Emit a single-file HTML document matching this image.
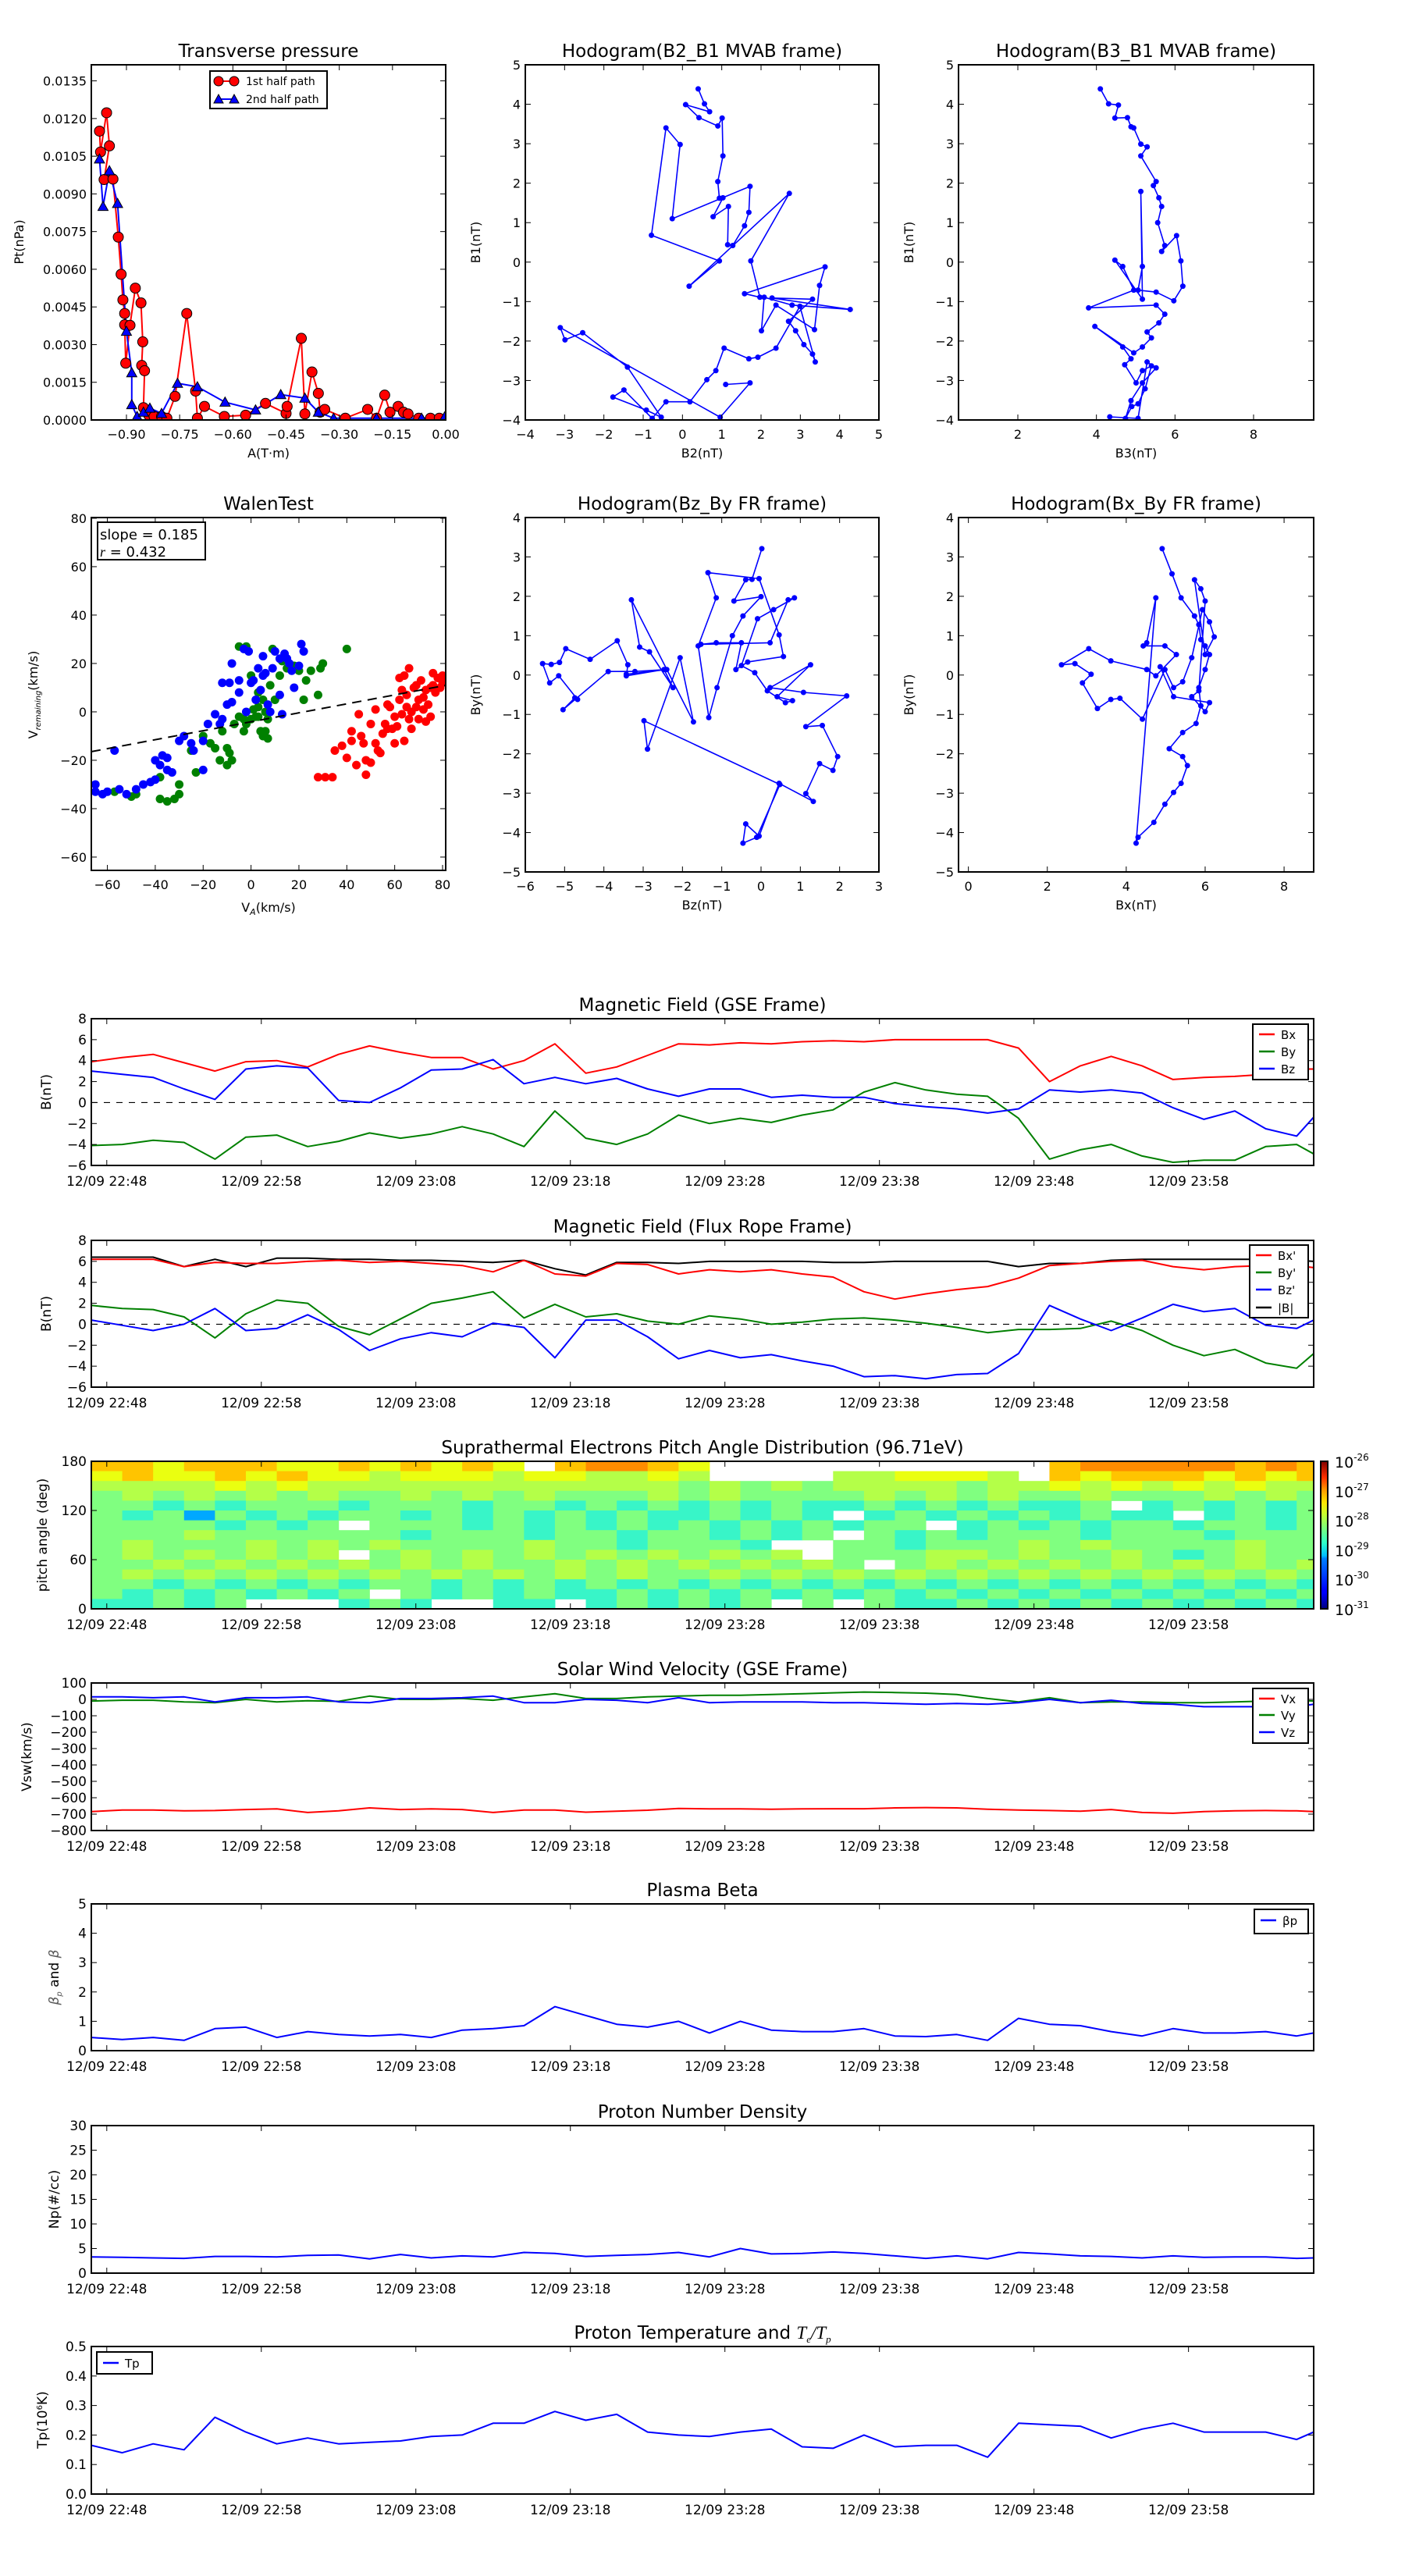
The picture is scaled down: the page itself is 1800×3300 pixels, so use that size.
<!DOCTYPE html>
<html><head><meta charset="utf-8"><style>
html,body{margin:0;padding:0;background:#fff;}
svg{display:block;font-family:"DejaVu Sans","Liberation Sans",sans-serif;}
</style></head><body>
<svg id="fig" width="1800" height="3300" viewBox="0 0 1800 3300" xmlns="http://www.w3.org/2000/svg">
<defs>
<linearGradient id="jet" x1="0" y1="1" x2="0" y2="0">
<stop offset="0" stop-color="#00007f"/><stop offset="0.11" stop-color="#0000ff"/><stop offset="0.125" stop-color="#0000ff"/>
<stop offset="0.34" stop-color="#0080ff"/><stop offset="0.36" stop-color="#00bfff"/><stop offset="0.45" stop-color="#30ffc7"/>
<stop offset="0.55" stop-color="#7dff7a"/><stop offset="0.64" stop-color="#c7ff30"/><stop offset="0.72" stop-color="#ffe600"/>
<stop offset="0.8" stop-color="#ffa000"/><stop offset="0.89" stop-color="#ff3000"/><stop offset="1" stop-color="#800000"/>
</linearGradient>
</defs>
</svg>
<script>
// ---------- DATA ----------
const ptA1=[-0.976,-0.973,-0.956,-0.948,-0.963,-0.938,-0.923,-0.915,-0.910,-0.905,-0.905,-0.902,-0.890,-0.875,-0.859,-0.854,-0.857,-0.849,-0.852,-0.837,-0.822,-0.801,-0.786,-0.763,-0.730,-0.705,-0.700,-0.680,-0.624,-0.564,-0.508,-0.450,-0.447,-0.407,-0.397,-0.377,-0.359,-0.354,-0.341,-0.283,-0.220,-0.195,-0.172,-0.157,-0.134,-0.119,-0.106,-0.076,-0.043,-0.018];
const ptP1=[0.0115,0.01067,0.01223,0.01091,0.00957,0.00959,0.00728,0.0058,0.00478,0.00424,0.00379,0.00226,0.00377,0.00525,0.00466,0.00311,0.00217,0.00196,0.00049,0.00019,0.00014,0.00014,0.00007,0.00094,0.00424,0.00115,0.00007,0.00054,0.00014,0.00019,0.00066,0.00026,0.00054,0.00325,0.00024,0.00191,0.00106,0.00031,0.00042,0.00007,0.00042,0.00007,0.00099,0.00031,0.00054,0.00031,0.00024,0.00007,0.00007,0.00007];
const ptA2=[-0.976,-0.966,-0.948,-0.925,-0.900,-0.885,-0.885,-0.870,-0.852,-0.834,-0.801,-0.756,-0.700,-0.622,-0.536,-0.465,-0.397,-0.359,-0.316,-0.195,-0.068,-0.003];
const ptP2=[0.01039,0.0085,0.00992,0.00862,0.00353,0.00188,0.00061,0.00014,0.00031,0.00047,0.00026,0.00146,0.00132,0.00071,0.0004,0.00101,0.00087,0.00031,0.00007,0.00007,0.00007,0.00012];
const ptXTicks=[-0.90,-0.75,-0.60,-0.45,-0.30,-0.15,0.00];
const ptYTicks=[0,0.0015,0.003,0.0045,0.006,0.0075,0.009,0.0105,0.012,0.0135];

const h1B2=[0.40,0.56,0.69,0.08,0.42,0.90,1.01,1.03,0.90,0.94,1.03,0.78,1.17,1.15,1.28,1.58,1.69,1.72,-0.26,-0.06,-0.42,-0.79,0.94,0.17,2.72,1.74,1.97,1.58,3.63,3.49,3.36,2.38,2.01,2.08,2.79,4.27,2.28,3.31,2.70,2.88,3.09,3.31,3.38,2.99,2.38,1.92,1.69,1.06,0.85,0.62,0.19,-0.42,-0.77,-1.49,-1.77,-0.92,-0.54,-1.40,-2.54,-2.99,-3.11,0.96,1.72,1.10];
const h1B1=[4.39,4.01,3.81,3.99,3.66,3.45,3.65,2.69,2.04,1.62,1.63,1.15,1.41,0.44,0.42,0.92,1.26,1.92,1.10,2.98,3.40,0.68,0.03,-0.61,1.74,0.03,-0.89,-0.80,-0.12,-0.59,-1.71,-1.09,-1.74,-0.89,-1.09,-1.20,-0.91,-0.94,-1.50,-1.74,-2.09,-2.33,-2.53,-1.12,-2.18,-2.41,-2.45,-2.18,-2.75,-2.98,-3.54,-3.54,-3.96,-3.24,-3.42,-3.75,-3.93,-2.66,-1.79,-1.97,-1.66,-3.93,-3.06,-3.10];

const h2B3=[4.10,4.31,4.56,4.47,4.79,4.88,4.95,5.13,5.29,5.13,5.52,5.45,5.59,5.66,5.56,5.74,5.66,6.04,6.15,6.20,5.97,5.52,5.06,5.17,5.13,5.17,4.47,4.67,4.95,3.80,5.52,5.74,5.59,5.29,5.40,5.17,4.95,3.96,4.67,4.88,4.72,5.01,5.17,5.40,5.24,5.06,4.90,4.74,4.88,5.17,5.52,5.29,5.06,4.34];
const h2B1=[4.39,4.01,3.98,3.65,3.66,3.43,3.40,2.99,2.92,2.69,2.04,1.94,1.63,1.41,1.00,0.42,0.27,0.67,0.03,-0.61,-0.98,-0.76,-0.71,-0.11,1.79,-0.94,0.05,-0.11,-0.71,-1.16,-1.09,-1.32,-1.54,-1.77,-1.92,-2.15,-2.30,-1.63,-2.15,-2.45,-2.60,-3.06,-2.75,-2.63,-3.21,-3.59,-3.66,-3.96,-3.51,-3.06,-2.68,-2.53,-3.96,-3.92];

const h3Bz=[0.02,-0.23,-0.39,-0.69,0.00,-0.46,-0.73,-1.12,-1.33,-1.60,-1.14,-1.35,-0.05,0.46,0.57,-0.34,-0.64,-0.50,-1.14,-1.53,0.23,0.69,0.85,0.32,-0.09,-0.50,-0.16,0.16,0.62,0.80,0.41,1.26,0.23,1.08,2.18,1.14,1.56,1.95,1.83,1.49,1.14,1.33,0.46,-0.05,-0.39,-0.46,-0.11,0.48,-2.98,-2.89,-2.06,-1.72,-3.30,-3.09,-2.84,-2.24,-2.47,-3.43,-3.39,-3.66,-4.35,-4.97,-5.13,-5.34,-5.56,-5.38,-5.15,-4.67,-4.74,-5.04,-3.89,-3.21,-2.40,-3.43];
const h3By=[3.21,2.43,2.42,1.88,1.99,1.50,1.00,-0.32,-1.08,0.74,1.96,2.60,2.45,1.02,0.47,0.33,0.14,0.82,0.82,0.78,0.82,1.91,1.96,1.66,1.43,0.24,0.06,-0.40,-0.70,-0.65,-0.55,0.26,-0.32,-0.44,-0.53,-1.31,-1.28,-2.07,-2.42,-2.25,-3.01,-3.21,-2.75,-4.09,-3.78,-4.27,-4.12,-2.78,-1.16,-1.88,0.44,-1.19,1.91,0.71,0.59,-0.32,0.14,-0.02,0.26,0.87,0.40,0.67,0.32,0.27,0.29,-0.20,-0.02,-0.62,-0.58,-0.88,0.09,0.09,0.14,0.02];

const h4Bx=[4.91,5.16,5.39,5.73,5.84,5.89,6.00,6.11,6.00,5.84,5.89,5.77,5.43,5.09,5.43,5.55,5.39,5.20,4.98,4.70,4.30,4.25,4.75,4.52,4.43,4.98,5.27,4.75,4.52,3.61,3.05,2.36,2.70,3.11,2.89,3.27,3.61,3.84,4.41,4.98,5.20,5.43,5.66,5.93,6.11,6.23,6.00,5.73,5.89,6.00,5.84,5.66,6.00,6.11,5.20,4.86];
const h4By=[3.21,2.57,1.96,1.50,1.28,0.90,0.74,0.52,0.14,-0.32,-0.78,-1.23,-1.46,-1.87,-2.07,-2.30,-2.75,-2.98,-3.28,-3.74,-4.12,-4.27,1.96,0.82,0.74,0.74,0.52,-0.02,0.14,0.36,0.67,0.26,0.29,0.02,-0.20,-0.85,-0.62,-0.59,-1.12,0.14,-0.32,-0.17,0.44,1.66,1.35,0.97,0.52,2.42,2.19,1.88,-0.40,-0.55,-0.93,-0.70,-0.55,0.21];

const wBlueVA=[-65,-62,-60,-55,-52,-57,-45,-40,-38,-37,-40,-35,-33,-35,-30,-28,-25,-24,-20,-18,-15,-12,-10,-12,-13,-8,-5,-3,-1,0,2,3,5,5,7,8,9,10,12,12,14,15,16,18,17,20,21,22,-8,-5,-2,1,4,-20,-42,-48,-65,-9,6,13];
const wBlueVR=[-33,-34,-33,-32,-34,-16,-30,-28,-22,-18,-20,-24,-25,-19,-12,-10,-13,-16,-24,-5,-1,-3,3,12,-5,20,13,26,25,12,5,18,15,23,3,0,18,25,7,22,24,22,20,10,17,19,28,25,4,8,0,13,9,-12,-29,-32,-30,12,16,-1];
const wGreenVA=[-5,-2,0,3,3,5,6,7,8,9,10,12,13,15,18,20,22,23,25,28,29,30,40,-25,-23,-20,-17,-15,-13,-10,-9,-7,-5,-3,-2,0,2,4,5,6,7,-30,-32,-35,-38,-48,-50,-57,-38,-30,-8,-12,-3,1,3,-10];
const wGreenVR=[27,27,15,8,-2,5,0,-3,11,26,5,15,21,18,19,17,5,13,17,7,18,20,26,-16,-25,-10,-13,-15,-20,-22,-17,-5,-2,-8,-5,-3,-2,-8,-10,-8,-11,-30,-36,-37,-27,-34,-35,-33,-36,-34,-20,-8,-3,1,2,-15];
const wRedVA=[28,31,34,35,38,40,42,42,44,45,47,48,48,50,50,52,53,54,55,56,57,58,60,60,61,62,62,63,64,65,65,66,67,67,68,69,70,70,71,72,72,73,74,75,75,76,76,77,78,79,80,80,66,64,59,52,46,69,73,57,63];
const wRedVR=[-27,-27,-27,-16,-14,-19,-8,-12,-22,-1,-13,-20,-26,-5,-21,-13,-16,-17,-9,-5,-7,2,-2,-13,-6,5,14,-1,15,2,7,18,-7,0,10,11,-3,5,13,1,6,9,3,10,-2,11,16,8,14,10,12,15,-3,-12,-7,1,-10,2,-4,3,9];
const walenSlope=0.185, walenIntercept=-4.1;

// time series (minutes after 12/09 22:48)
const tMin=[-1,1,3,5,7,9,11,13,15,17,19,21,23,25,27,29,31,33,35,37,39,41,43,45,47,49,51,53,55,57,59,61,63,65,67,69,71,73,75,77,78.1];
const timeTicks=[0,10,20,30,40,50,60,70];
const timeLabels=['12/09 22:48','12/09 22:58','12/09 23:08','12/09 23:18','12/09 23:28','12/09 23:38','12/09 23:48','12/09 23:58'];
const gseBx=[3.9,4.3,4.6,3.8,3.0,3.9,4.0,3.4,4.6,5.4,4.8,4.3,4.3,3.2,4.0,5.6,2.8,3.4,4.5,5.6,5.5,5.7,5.6,5.8,5.9,5.8,6.0,6.0,6.0,6.0,5.2,2.0,3.5,4.4,3.5,2.2,2.4,2.5,2.7,3.2,3.2];
const gseBy=[-4.1,-4.0,-3.6,-3.8,-5.4,-3.3,-3.1,-4.2,-3.7,-2.9,-3.4,-3.0,-2.3,-3.0,-4.2,-0.8,-3.4,-4.0,-3.0,-1.2,-2.0,-1.5,-1.9,-1.2,-0.7,1.0,1.9,1.2,0.8,0.6,-1.5,-5.4,-4.5,-4.0,-5.1,-5.7,-5.5,-5.5,-4.2,-4.0,-4.9];
const gseBz=[3.0,2.7,2.4,1.3,0.3,3.2,3.5,3.3,0.2,0.0,1.4,3.1,3.2,4.1,1.8,2.4,1.8,2.3,1.3,0.6,1.3,1.3,0.5,0.7,0.5,0.5,-0.1,-0.4,-0.6,-1.0,-0.6,1.2,1.0,1.2,0.9,-0.5,-1.6,-0.8,-2.5,-3.2,-1.4];
const frBx=[6.2,6.2,6.2,5.5,5.9,5.8,5.8,6.0,6.1,5.9,6.0,5.8,5.6,5.0,6.1,4.8,4.6,5.8,5.7,4.8,5.2,5.0,5.2,4.8,4.5,3.1,2.4,2.9,3.3,3.6,4.4,5.6,5.8,6.0,6.1,5.5,5.2,5.5,5.6,5.6,5.4];
const frBy=[1.8,1.5,1.4,0.7,-1.3,1.0,2.3,2.0,-0.2,-1.0,0.5,2.0,2.5,3.1,0.6,1.9,0.7,1.0,0.3,0.0,0.8,0.5,0.0,0.2,0.5,0.6,0.4,0.1,-0.3,-0.8,-0.5,-0.5,-0.4,0.3,-0.6,-2.0,-3.0,-2.4,-3.7,-4.2,-2.8];
const frBz=[0.4,-0.1,-0.6,0.0,1.5,-0.6,-0.4,0.9,-0.5,-2.5,-1.4,-0.8,-1.2,0.1,-0.3,-3.2,0.4,0.4,-1.2,-3.3,-2.5,-3.2,-2.9,-3.5,-4.0,-5.0,-4.9,-5.2,-4.8,-4.7,-2.8,1.8,0.5,-0.6,0.6,1.9,1.2,1.5,-0.1,-0.4,0.4];
const frBt=[6.4,6.4,6.4,5.5,6.2,5.5,6.3,6.3,6.2,6.2,6.1,6.1,6.0,5.9,6.1,5.3,4.7,5.9,5.9,5.8,6.0,6.0,6.0,6.0,5.9,5.9,6.0,6.0,6.0,6.0,5.5,5.8,5.8,6.1,6.2,6.2,6.2,6.2,6.2,6.1,6.0];
const swVx=[-685,-675,-675,-680,-678,-672,-668,-690,-680,-662,-672,-668,-672,-690,-675,-675,-688,-682,-676,-665,-668,-668,-670,-668,-667,-667,-662,-660,-662,-670,-675,-678,-682,-672,-690,-695,-685,-680,-678,-680,-685];
const swVy=[-10,-5,-5,-15,-20,0,-15,-8,-12,20,0,0,5,-5,15,35,5,5,15,20,25,25,30,35,40,45,42,38,30,5,-15,10,-20,-15,-15,-20,-20,-15,-10,-5,-10];
const swVz=[15,15,10,15,-15,10,10,15,-15,-20,5,5,10,20,-20,-20,0,-5,-20,10,-20,-15,-15,-15,-20,-20,-25,-30,-25,-30,-20,0,-20,-5,-25,-30,-45,-45,-45,-45,-30];
const betaP=[0.45,0.38,0.45,0.35,0.75,0.8,0.45,0.65,0.55,0.5,0.55,0.45,0.7,0.75,0.85,1.5,1.2,0.9,0.8,1.0,0.6,1.0,0.7,0.65,0.65,0.75,0.5,0.48,0.55,0.35,1.1,0.9,0.85,0.65,0.5,0.75,0.6,0.6,0.65,0.5,0.6];
const npVals=[3.3,3.2,3.1,3.0,3.4,3.4,3.3,3.6,3.7,2.9,3.8,3.1,3.5,3.3,4.2,4.0,3.4,3.6,3.8,4.2,3.3,5.0,3.9,4.0,4.3,4.0,3.5,3.0,3.5,2.9,4.2,3.9,3.5,3.4,3.1,3.5,3.2,3.3,3.3,3.0,3.1];
const tpVals=[0.165,0.14,0.17,0.15,0.26,0.21,0.17,0.19,0.17,0.175,0.18,0.195,0.20,0.24,0.24,0.28,0.25,0.27,0.21,0.20,0.195,0.21,0.22,0.16,0.155,0.20,0.16,0.165,0.165,0.125,0.24,0.235,0.23,0.19,0.22,0.24,0.21,0.21,0.21,0.185,0.21];

// PAD: rows from 180 deg (top) to 0 deg, columns 2 min each starting at t=-1; level 0 = no data
const padRows=[
"7767776676767607887600000000000788888787",
"6766767665666566556500005566650767776767",
"5555656555555555555454545555455656565655",
"4545454544545454445454444545454454445454",
"4434344434443443434343433434343340343434",
"4342434344343434343343430343434343303434",
"4444343404443434343434343440343434434434",
"4445444444344434434434340434344434443444",
"4544454545444454434443004434445454444544",
"4545454504545454545454504445545445434544",
"4454545454545445454545454045454545454545",
"4545454545454545454454545454545454545454",
"4434343434434343434343434343434343434343",
"4343434340434343343434343434343434343434",
"3343400034300330343434040433434343434343"];
const padColors=['#ffffff','#0040ff','#00a8ff','#38f5c8','#80ff80','#b4ff48','#eaff10','#ffc400','#ff8c00','#ff5000'];

// ---------- RENDER ----------
const NS='http://www.w3.org/2000/svg';
const svg=document.getElementById('fig');
function mk(tag,attrs,parent){const e=document.createElementNS(NS,tag);for(const k in attrs)e.setAttribute(k,attrs[k]);(parent||svg).appendChild(e);return e;}
let clipId=0;
function axes(name,x0,y0,x1,y1,xlim,ylim){
  const g=mk('g',{});
  
  
  const id='c'+(clipId++);
  const cp=mk('clipPath',{id:id},g);mk('rect',{x:x0,y:y0,width:x1-x0,height:y1-y0},cp);
  const plot=mk('g',{'clip-path':'url(#'+id+')'},g);
  
  
  return {g,plot,x0,y0,x1,y1,
    sx:v=>x0+(v-xlim[0])/(xlim[1]-xlim[0])*(x1-x0),
    sy:v=>y1-(v-ylim[0])/(ylim[1]-ylim[0])*(y1-y0)};
}
function frame(ax){const r=mk('rect',{x:ax.x0,y:ax.y0,width:ax.x1-ax.x0,height:ax.y1-ax.y0,fill:'none',stroke:'#000','stroke-width':2},ax.g);
  
  }
function txt(s,x,y,size,anchor,parent,extra){const t=mk('text',Object.assign({x:x,y:y,'font-size':size,'text-anchor':anchor||'middle',fill:'#000'},extra||{}),parent);t.textContent=s;return t;}
function xticks(ax,vals,labels,size,off){vals.forEach((v,i)=>{const x=ax.sx(v);
  mk('line',{x1:x,x2:x,y1:ax.y1,y2:ax.y1-7,stroke:'#000','stroke-width':1},ax.g);
  mk('line',{x1:x,x2:x,y1:ax.y0,y2:ax.y0+7,stroke:'#000','stroke-width':1},ax.g);
  const t=txt(labels[i],x,ax.y1+(off||24),size||17,'middle',ax.g);
  
  });}
function yticks(ax,vals,labels,size){vals.forEach((v,i)=>{const y=ax.sy(v);
  mk('line',{x1:ax.x0,x2:ax.x0+7,y1:y,y2:y,stroke:'#000','stroke-width':1},ax.g);
  mk('line',{x1:ax.x1,x2:ax.x1-7,y1:y,y2:y,stroke:'#000','stroke-width':1},ax.g);
  const t=txt(labels[i],ax.x0-6,y+6,size||17,'end',ax.g);
  
  });}
function title(s,x,y,size){const t=txt(s,x,y,size||23,'middle');
  
  return t;}
function ylabel(s,x,y,size){const t=txt(s,x,y,size||17,'middle',svg,{transform:'rotate(-90 '+x+' '+y+')'});
  
  return t;}
function xlabel(s,x,y,size){const t=txt(s,x,y,size||17,'middle');
  
  return t;}
function line(ax,xs,ys,color,w,name,dash){const d=xs.map((x,i)=>(i?'L':'M')+ax.sx(x).toFixed(1)+','+ax.sy(ys[i]).toFixed(1)).join('');
  const p=mk('path',{d:d,fill:'none',stroke:color,'stroke-width':w||2,'stroke-linejoin':'round'},ax.plot);
  if(dash)p.setAttribute('stroke-dasharray',dash);
  
  return p;}
function dots(ax,xs,ys,color,r,name,stroke){xs.forEach((x,i)=>{const c=mk('circle',{cx:ax.sx(x),cy:ax.sy(ys[i]),r:r,fill:color,stroke:stroke||'none','stroke-width':1},ax.plot);
  
  });}
function tris(ax,xs,ys,color,s,name){xs.forEach((x,i)=>{const cx=ax.sx(x),cy=ax.sy(ys[i]);
  const p=mk('polygon',{points:`${cx},${cy-s} ${cx-s},${cy+s*0.8} ${cx+s},${cy+s*0.8}`,fill:color,stroke:'#000','stroke-width':1},ax.plot);
  
  });}
function legend(name,x,y,w,h,items,rowY,size){const g=mk('g',{});
  
  
  mk('rect',{x:x,y:y,width:w,height:h,fill:'#fff',stroke:'#000','stroke-width':2},g);
  items.forEach((it,i)=>{const yy=rowY[i];
    const l=mk('line',{x1:x+8,x2:x+28,y1:yy,y2:yy,stroke:it[1],'stroke-width':2.5},g);
    
    
    const t=txt(it[0],x+36,yy+6,size||15,'start',g);
    
    });return g;}
function hline0(ax){const l=mk('line',{x1:ax.x0,x2:ax.x1,y1:ax.sy(0),y2:ax.sy(0),stroke:'#000','stroke-width':1.2,'stroke-dasharray':'8,8'},ax.plot);
  
  }
const fmt=(v,d)=>(v<0?'\u2212':'')+Math.abs(v).toFixed(d);

// ---- Transverse pressure ----
{const ax=axes('transverse-pressure-chart',117,83,571,538,[-0.999,0],[0,0.01414]);
 line(ax,ptA1,ptP1,'#ff0000',2,'pt-first-half-line');
 line(ax,ptA2,ptP2,'#0000ff',2,'pt-second-half-line');
 dots(ax,ptA1,ptP1,'#ff0000',6.5,'pt-first-half-point','#000');
 tris(ax,ptA2,ptP2,'#0000ff',6.5,'pt-second-half-point');
 xticks(ax,ptXTicks,ptXTicks.map(v=>fmt(v,2)),16);
 yticks(ax,ptYTicks,ptYTicks.map(v=>v.toFixed(4)),16);
 frame(ax);
 const lg=mk('g',{});
 
 
 mk('rect',{x:269,y:91,width:150,height:48,fill:'#fff',stroke:'#000','stroke-width':2},lg);
 mk('line',{x1:280,x2:300,y1:104,y2:104,stroke:'#f00','stroke-width':2},lg);
 mk('circle',{cx:280,cy:104,r:6,fill:'#f00',stroke:'#000'},lg);mk('circle',{cx:300,cy:104,r:6,fill:'#f00',stroke:'#000'},lg);
 let t=txt('1st half path',315,109,14,'start',lg);
 
 
 mk('line',{x1:280,x2:300,y1:127,y2:127,stroke:'#00f','stroke-width':2},lg);
 mk('polygon',{points:'280,121 274,132 286,132',fill:'#00f',stroke:'#000'},lg);mk('polygon',{points:'300,121 294,132 306,132',fill:'#00f',stroke:'#000'},lg);
 t=txt('2nd half path',315,132,14,'start',lg);
 
 
 title('Transverse pressure',344,73);
 xlabel('A(T\u00b7m)',344,586,16);
 ylabel('Pt(nPa)',30,310,16);}

function hodo(name,x0,x1,y0,y1,xlim,ylim,xs,ys,xt,yt,ttl,xl,yl){
 const ax=axes(name,x0,y0,x1,y1,xlim,ylim);
 line(ax,xs,ys,'#0000ff',1.6,name+'-path');
 dots(ax,xs,ys,'#0000ff',3.5,name+'-point');
 xticks(ax,xt,xt.map(v=>fmt(v,0)),16);
 yticks(ax,yt,yt.map(v=>fmt(v,0)),16);
 frame(ax);
 title(ttl,(x0+x1)/2,y0-10);
 xlabel(xl,(x0+x1)/2,y1+48,16);
 ylabel(yl,x0-58,(y0+y1)/2,16);}
hodo('hodogram-b2-b1',673,1126,83,538,[-4,5],[-4,5],h1B2,h1B1,[-4,-3,-2,-1,0,1,2,3,4,5],[-4,-3,-2,-1,0,1,2,3,4,5],'Hodogram(B2_B1 MVAB frame)','B2(nT)','B1(nT)');
hodo('hodogram-b3-b1',1228,1683,83,538,[0.49,9.53],[-4,5],h2B3,h2B1,[2,4,6,8],[-4,-3,-2,-1,0,1,2,3,4,5],'Hodogram(B3_B1 MVAB frame)','B3(nT)','B1(nT)');
hodo('hodogram-bz-by',673,1126,663,1117,[-6,3],[-5,4],h3Bz,h3By,[-6,-5,-4,-3,-2,-1,0,1,2,3],[-5,-4,-3,-2,-1,0,1,2,3,4],'Hodogram(Bz_By FR frame)','Bz(nT)','By(nT)');
hodo('hodogram-bx-by',1228,1683,663,1117,[-0.25,8.75],[-5,4],h4Bx,h4By,[0,2,4,6,8],[-5,-4,-3,-2,-1,0,1,2,3,4],'Hodogram(Bx_By FR frame)','Bx(nT)','By(nT)');

// ---- Walen test ----
{const ax=axes('walen-test-chart',117,663,571,1115,[-66.7,81.3],[-65.5,80.3]);
 dots(ax,wGreenVA,wGreenVR,'#008000',5.5,'walen-point-green');
 dots(ax,wBlueVA,wBlueVR,'#0000ff',5.5,'walen-point-blue');
 dots(ax,wRedVA,wRedVR,'#ff0000',5.5,'walen-point-red');
 line(ax,[-66.7,81.3],[walenSlope*-66.7+walenIntercept,walenSlope*81.3+walenIntercept],'#000',2,'walen-fit-line','12,8');
 const xt=[-60,-40,-20,0,20,40,60,80],yt=[-60,-40,-20,0,20,40,60,80];
 xticks(ax,xt,xt.map(v=>fmt(v,0)),16);
 yticks(ax,yt,yt.map(v=>fmt(v,0)),16);
 frame(ax);
 const b=mk('g',{});
 
 
 mk('rect',{x:125,y:669,width:138,height:48,fill:'#fff',stroke:'#000','stroke-width':2},b);
 txt('slope = 0.185',128,691,18,'start',b);
 const r=txt('',128,713,18,'start',b);r.innerHTML='<tspan font-style="italic" font-family="Liberation Serif">r</tspan> = 0.432';
 title('WalenTest',344,653);
 const xl=xlabel('',344,1168,16);xl.innerHTML='V<tspan font-size="11" dy="4" font-style="italic">A</tspan><tspan dy="-4">(km/s)</tspan>';
 const yl=ylabel('',48,890,16);yl.innerHTML='V<tspan font-size="10" dy="4" font-style="italic">remaining</tspan><tspan dy="-4">(km/s)</tspan>';}

// ---- time series helper ----
function tsPanel(name,y0,y1,ylim,yt,ytl,ttl,ylab,ylx){
 const ax=axes(name,117,y0,1683,y1,[-1,78.1],ylim);
 xticks(ax,timeTicks,timeLabels,17,26);
 yticks(ax,yt,ytl,17);
 title(ttl,900,y0-10);
 if(ylab)ylabel(ylab,ylx||65,(y0+y1)/2,17);
 return ax;}
{const yt=[-6,-4,-2,0,2,4,6,8];
 const ax=tsPanel('gse-field-chart',1305,1493,[-6,8],yt,yt.map(v=>fmt(v,0)),'Magnetic Field (GSE Frame)','B(nT)');
 hline0(ax);
 line(ax,tMin,gseBx,'#ff0000',2,'bx-line');line(ax,tMin,gseBy,'#008000',2,'by-line');line(ax,tMin,gseBz,'#0000ff',2,'bz-line');
 frame(ax);
 legend('gse-legend',1605,1312,71,71,[['Bx','#ff0000'],['By','#008000'],['Bz','#0000ff']],[1325,1347,1369]);}
{const yt=[-6,-4,-2,0,2,4,6,8];
 const ax=tsPanel('flux-rope-field-chart',1589,1777,[-6,8],yt,yt.map(v=>fmt(v,0)),'Magnetic Field (Flux Rope Frame)','B(nT)');
 hline0(ax);
 line(ax,tMin,frBt,'#000',2,'btotal-line');line(ax,tMin,frBx,'#ff0000',2,'bx-prime-line');line(ax,tMin,frBy,'#008000',2,'by-prime-line');line(ax,tMin,frBz,'#0000ff',2,'bz-prime-line');
 frame(ax);
 legend('flux-rope-legend',1601,1595,75,93,[["Bx'",'#ff0000'],["By'",'#008000'],["Bz'",'#0000ff'],['|B|','#000']],[1608,1630,1652,1675]);}
{const yt=[0,60,120,180];
 const ax=tsPanel('pitch-angle-chart',1872,2061,[0,180],yt,yt.map(v=>String(v)),'Suprathermal Electrons Pitch Angle Distribution (96.71eV)','pitch angle (deg)',60);
 padRows.forEach((row,ri)=>{for(let c=0;c<row.length;c++){const lv=+row[c];if(!lv)continue;
   const t0=-1+2*c,a1=180-12*ri;
   const r=mk('rect',{x:ax.sx(t0),y:ax.sy(a1),width:ax.sx(t0+2)-ax.sx(t0)+0.5,height:ax.sy(a1-12)-ax.sy(a1)+0.5,fill:padColors[lv]},ax.plot);
   
   }});
 frame(ax);
 const cb=mk('g',{});
 
 
 mk('rect',{x:1692,y:1872,width:9,height:189,fill:'url(#jet)',stroke:'#000','stroke-width':2},cb);
 for(let i=0;i<=5;i++){const y=2061-i*189/5;
   const t=txt('',1710,y+8,19,'start',cb);t.innerHTML='10<tspan font-size="12" dy="-9">-'+(31-i)+'</tspan>';}}
{const yt=[-800,-700,-600,-500,-400,-300,-200,-100,0,100];
 const ax=tsPanel('solar-wind-velocity-chart',2156,2345,[-800,100],yt,yt.map(v=>fmt(v,0)),'Solar Wind Velocity (GSE Frame)','Vsw(km/s)',40);
 line(ax,tMin,swVx,'#ff0000',2,'vx-line');line(ax,tMin,swVy,'#008000',2,'vy-line');line(ax,tMin,swVz,'#0000ff',2,'vz-line');
 frame(ax);
 legend('velocity-legend',1605,2163,71,70,[['Vx','#ff0000'],['Vy','#008000'],['Vz','#0000ff']],[2176,2197,2219]);}
{const yt=[0,1,2,3,4,5];
 const ax=tsPanel('plasma-beta-chart',2439,2627,[0,5],yt,yt.map(v=>String(v)),'Plasma Beta','',75);
 line(ax,tMin,betaP,'#0000ff',2,'beta-p-line');
 frame(ax);
 const yl=ylabel('',75,2533,17);yl.innerHTML='<tspan font-style="italic" fill="#555">\u03b2</tspan><tspan font-size="10" dy="4" font-style="italic" fill="#555">p</tspan><tspan dy="-4"> and </tspan><tspan font-style="italic" fill="#555">\u03b2</tspan>';
 legend('beta-legend',1607,2446,69,31,[['\u03b2p','#0000ff']],[2460]);}
{const yt=[0,5,10,15,20,25,30];
 const ax=tsPanel('proton-density-chart',2723,2912,[0,30],yt,yt.map(v=>String(v)),'Proton Number Density','Np(#/cc)',75);
 line(ax,tMin,npVals,'#0000ff',2,'np-line');
 frame(ax);}
{const yt=[0,0.1,0.2,0.3,0.4,0.5];
 const ax=tsPanel('proton-temperature-chart',3006,3195,[0,0.5],yt,yt.map(v=>v.toFixed(1)),'','',75);
 line(ax,tMin,tpVals,'#0000ff',2,'tp-line');
 frame(ax);
 const tt=title('',900,2996);tt.innerHTML='Proton Temperature and <tspan font-family="Liberation Serif" font-style="italic">T</tspan><tspan font-size="13" dy="5" font-family="Liberation Serif" font-style="italic">e</tspan><tspan dy="-5" font-family="Liberation Serif" font-style="italic">/T</tspan><tspan font-size="13" dy="5" font-family="Liberation Serif" font-style="italic">p</tspan>';
 const yl=ylabel('',60,3100,17);yl.innerHTML='Tp(10<tspan font-size="10" dy="-6">6</tspan><tspan dy="6">K)</tspan>';
 legend('tp-legend',124,3013,71,28,[['Tp','#0000ff']],[3027]);}
</script>
</body></html>
